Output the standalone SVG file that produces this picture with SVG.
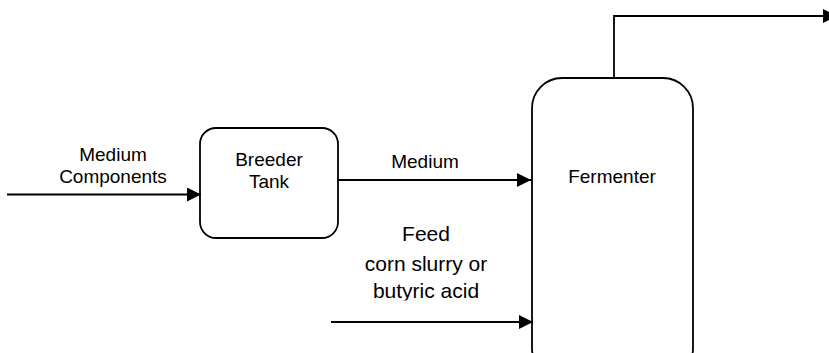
<svg xmlns="http://www.w3.org/2000/svg" width="829" height="353" viewBox="0 0 829 353">
<style>
.n{fill:#fff;stroke:#000;stroke-width:1.8}
.c{fill:none;stroke:#000;stroke-width:1.8}
text{font-family:"Liberation Sans",Arial,sans-serif;fill:#000;text-anchor:middle}
.s{font-size:19px}
.l{font-size:21px}
</style>
<defs>
<marker id="b" viewBox="0 0 14 14" refX="14" refY="7" markerWidth="14" markerHeight="14" markerUnits="userSpaceOnUse" orient="auto"><path d="M0,0L14,7L0,14z" fill="#000"/></marker>
<clipPath id="clip"><rect x="0" y="0" width="829" height="300.5"/></clipPath>
</defs>
<g id="breeder">
<rect class="n" x="200" y="128" width="138" height="110" rx="16"/>
<text class="s" x="269" y="166">Breeder</text>
<text class="s" x="269" y="188">Tank</text>
</g>
<g id="fermenter">
<rect class="n" x="532" y="78" width="161" height="300" rx="30"/>
<text class="s" x="612" y="183">Fermenter</text>
</g>
<g id="connectors">
<path class="c" d="M7,194.5H201" marker-end="url(#b)"/>
<path class="c" d="M338,180H531" marker-end="url(#b)"/>
<path class="c" d="M331,322H533" marker-end="url(#b)"/>
<path class="c" d="M614,78V16H837" marker-end="url(#b)"/>
</g>
<g id="labels">
<text class="s" x="113" y="160.5">Medium</text>
<text class="s" x="113" y="183">Components</text>
<text class="s" x="425" y="168">Medium</text>
<text class="l" x="426" y="241">Feed</text>
<text class="l" x="426" y="271">corn slurry or</text>
<text class="l" x="426" y="298" clip-path="url(#clip)">butyric acid</text>
</g>
</svg>
